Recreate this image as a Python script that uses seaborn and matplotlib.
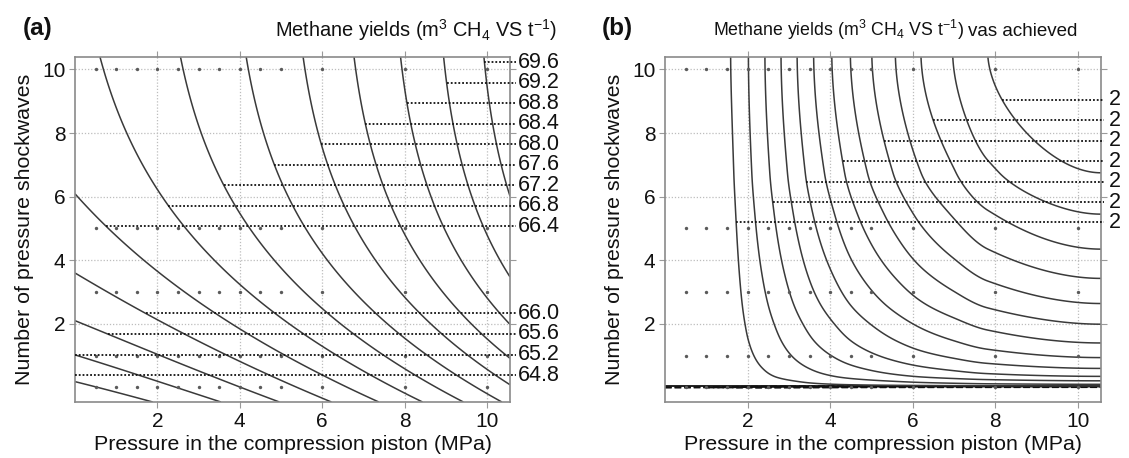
import numpy as np
import matplotlib
matplotlib.use("Agg")
import matplotlib.pyplot as plt
import seaborn as sns
import pandas as pd

# ------------------------------------------------------------------ data
# experimental design points (pressure in MPa, number of shockwaves)
design_x = [0.5, 1, 1.5, 2, 2.5, 3, 3.5, 4, 4.5, 5, 6, 8, 10]
design_y = [0, 1, 3, 5, 10]

# panel (a): methane yield response surface
#   Y = c0 - c1*exp(-y/c2) + bx*x + bxx*x^2 + bxy*x*y
a_levels = [64.8, 65.2, 65.6, 66.0, 66.4, 66.8, 67.2, 67.6, 68.0, 68.4, 68.8, 69.2, 69.6]
a_labels = ["64.8", "65.2", "65.6", "66.0", "66.4", "66.8", "67.2", "67.6",
            "68.0", "68.4", "68.8", "69.2", "69.6"]
a_coef_y = [66.84, 2.14, 3.85]
a_coef_x = [0.1708, 0.013]
a_coef_xy = -0.000705

# panel (b): contour crossings (level index 1..13)
b_levels = [1, 2, 3, 4, 5, 6, 7, 8, 9, 10, 11, 12, 13]
b_top_x = [1.59, 2.02, 2.42, 2.81, 3.2, 3.6, 4.04, 4.49, 5.01, 5.58, 6.2, 6.97, 7.82]
b_right_y = [0.05, 0.10, 0.21, 0.35, 0.60, 0.94, 1.40, 1.99, 2.64, 3.43, 4.35, 5.45, 6.75]
b_band_levels = [-6, -3, -1.5, -0.6, -0.2, 0.0]
b_label_levels = [13, 11, 9, 7, 5, 3, 1]
b_labels = ["2", "2", "2", "2", "2", "2", "2"]

# ------------------------------------------------------------------ style
sns.set_theme(style="white")
plt.rcParams["font.family"] = ["Liberation Sans", "DejaVu Sans"]
plt.rcParams["mathtext.fontset"] = "custom"
plt.rcParams["mathtext.rm"] = "Liberation Sans"
plt.rcParams["mathtext.it"] = "Liberation Sans:italic"
plt.rcParams["mathtext.bf"] = "Liberation Sans:bold"

W, H = 1129, 458
fig = plt.figure(figsize=(W / 100, H / 100), dpi=100)
XL = (0.0, 10.56)
YL = (-0.456, 10.39)
ax_a = fig.add_axes([75 / W, 1 - 402 / H, 435 / W, 345 / H])
ax_b = fig.add_axes([665 / W, 1 - 402 / H, 436 / W, 345 / H])

line_col = "#3a3a3a"
txt_col = "#111111"
dots = pd.DataFrame([(x, y) for y in design_y for x in design_x], columns=["x", "y"])


def style_axes(ax):
    sns.scatterplot(data=dots, x="x", y="y", ax=ax, s=6, color="#5a5a5a",
                    linewidth=0, legend=False, zorder=3)
    ax.set_xlim(*XL)
    ax.set_ylim(*YL)
    ax.set_xticks([2, 4, 6, 8, 10])
    ax.set_yticks([2, 4, 6, 8, 10])
    ax.grid(True, linestyle=(0, (1, 1.5)), color="#bdbdbd", linewidth=0.9)
    for s in ax.spines.values():
        s.set_color("#8a8a8a")
        s.set_linewidth(1.2)
        s.set_visible(True)
    ax.tick_params(direction="out", length=4, width=0.8, color="#9a9a9a",
                   top=True, right=True, bottom=True, left=True,
                   labelsize=15, pad=3, labelcolor=txt_col)
    ax.set_xlabel("Pressure in the compression piston (MPa)", fontsize=15.4,
                  labelpad=3, color=txt_col)
    ax.set_ylabel("Number of pressure shockwaves", fontsize=15.4, labelpad=6,
                  color=txt_col)


def pchip(xk, yk, x):
    """monotone piecewise-cubic Hermite interpolation (Fritsch-Carlson)"""
    xk = np.asarray(xk, float)
    yk = np.asarray(yk, float)
    x = np.asarray(x, float)
    h = np.diff(xk)
    dl = np.diff(yk) / h
    n = len(xk)
    d = np.zeros(n)
    for k in range(1, n - 1):
        if dl[k - 1] * dl[k] > 0:
            w1 = 2 * h[k] + h[k - 1]
            w2 = h[k] + 2 * h[k - 1]
            d[k] = (w1 + w2) / (w1 / dl[k - 1] + w2 / dl[k])
    d0 = ((2 * h[0] + h[1]) * dl[0] - h[0] * dl[1]) / (h[0] + h[1])
    d[0] = d0 if d0 * dl[0] > 0 else 0.0
    dn = ((2 * h[-1] + h[-2]) * dl[-1] - h[-1] * dl[-2]) / (h[-1] + h[-2])
    d[-1] = dn if dn * dl[-1] > 0 else 0.0
    i = np.clip(np.searchsorted(xk, x) - 1, 0, n - 2)
    t = (x - xk[i]) / h[i]
    h00 = 2 * t ** 3 - 3 * t ** 2 + 1
    h10 = t ** 3 - 2 * t ** 2 + t
    h01 = -2 * t ** 3 + 3 * t ** 2
    h11 = t ** 3 - t ** 2
    return h00 * yk[i] + h10 * h[i] * d[i] + h01 * yk[i + 1] + h11 * h[i] * d[i + 1]


leader_kw = dict(color="#111111", linewidth=1.3, linestyle=(0, (1, 1.1)),
                 clip_on=False, zorder=4)

# ------------------------------------------------------------------ panel (a)
def P(y):
    return a_coef_y[0] - a_coef_y[1] * np.exp(-np.asarray(y) / a_coef_y[2])


xa = np.linspace(XL[0], XL[1], 400)
ya = np.linspace(YL[0], YL[1], 400)
XA, YA = np.meshgrid(xa, ya)
ZA = P(YA) + a_coef_x[0] * XA + a_coef_x[1] * XA ** 2 + a_coef_xy * XA * YA
ax_a.contour(XA, YA, ZA, levels=a_levels, colors=line_col, linewidths=1.1, zorder=2)
style_axes(ax_a)

# label heights (layout): upper group of 9, lower group of 4
lab_y_a = {}
for i, lev in enumerate(a_levels[::-1][:9]):
    lab_y_a[lev] = 10.22 - 0.644 * i
for i, lev in enumerate(a_levels[3::-1]):
    lab_y_a[lev] = 2.33 - 0.647 * i
x_end = XL[1] + 0.15
for lev, txt in zip(a_levels, a_labels):
    yl = lab_y_a[lev]
    qa = a_coef_x[1]
    qb = a_coef_x[0] + a_coef_xy * yl
    qc = P(yl) - lev
    disc = qb ** 2 - 4 * qa * qc
    x0 = (-qb + np.sqrt(disc)) / (2 * qa)
    x0 = max(x0, XL[0])
    ax_a.plot([x0, x_end], [yl, yl], **leader_kw)
    ax_a.text(x_end + 0.04, yl, txt, fontsize=15.5, va="center", ha="left",
              color=txt_col, clip_on=False)

# ------------------------------------------------------------------ panel (b)
A0, A_R = 0.3, 14.3      # model: Z = A(x) * B(y)
y_top = 10.4
kx = [XL[0]] + b_top_x + [XL[1]]
kA = [A0] + b_levels + [A_R]
ky = b_right_y + [y_top]
kB = [lv / A_R for lv in b_levels] + [1.0]


def A_of(x):
    return pchip(kx, kA, x)


def B_of(y):
    y = np.asarray(y, dtype=float)
    out = pchip(ky, kB, np.maximum(y, ky[0]))
    low = y < ky[0]
    out[low] = kB[0] + 0.30 * np.log(y[low] / ky[0])
    return out


xb = np.linspace(XL[0], XL[1], 800)
yb = np.concatenate([np.geomspace(1e-5, 0.3, 300), np.linspace(0.3, YL[1], 600)[1:]])
XB, YB = np.meshgrid(xb, yb)
ZB = A_of(XB) * B_of(YB)
ax_b.contour(XB, YB, ZB, levels=b_band_levels, colors="#111111", linewidths=1.3, zorder=2)
ax_b.contour(XB, YB, ZB, levels=b_levels, colors=line_col, linewidths=1.1, zorder=2)
style_axes(ax_b)

xfine = np.linspace(XL[0], XL[1], 3000)
Afine = A_of(xfine)
lab_y_b = [9.04 - 0.642 * i for i in range(len(b_label_levels))]
x_end_b = XL[1] + 0.08
for lev, yl, txt in zip(b_label_levels, lab_y_b, b_labels):
    need_A = lev / B_of(np.array([yl]))[0]
    x0 = np.interp(need_A, Afine, xfine)
    ax_b.plot([x0, x_end_b], [yl, yl], **leader_kw)
    ax_b.text(x_end_b + 0.12, yl, txt, fontsize=15.5, va="center", ha="left",
              color=txt_col, clip_on=False)

# ------------------------------------------------------------------ titles
title = r"Methane yields (m$^{3}$ CH$_{4}$ VS t$^{-1}$)"
fig.text(23 / W, 1 - 28 / H, "(a)", fontsize=17.5, fontweight="bold", va="center", ha="left",
         color=txt_col)
fig.text(557 / W, 1 - 30 / H, title, fontsize=14.4, va="center", ha="right", color=txt_col)
fig.text(602 / W, 1 - 28 / H, "(b)", fontsize=17.5, fontweight="bold", va="center", ha="left",
         color=txt_col)
fig.text(964 / W, 1 - 30 / H, title, fontsize=12.8, va="center", ha="right", color=txt_col)
fig.text(968 / W, 1 - 31 / H, "vas achieved", fontsize=13.5, va="center", ha="left",
         color=txt_col)

fig.savefig("out.png", dpi=100)
